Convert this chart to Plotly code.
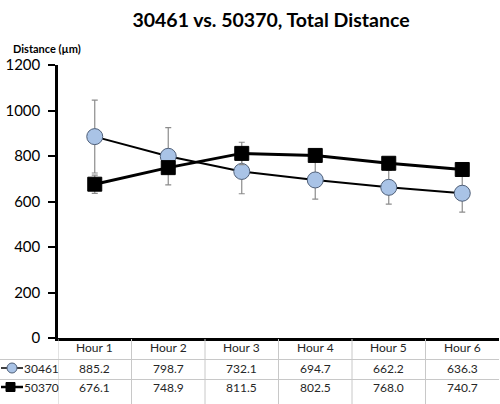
import plotly.graph_objects as go

categories = ["Hour 1", "Hour 2", "Hour 3", "Hour 4", "Hour 5", "Hour 6"]
series_a_name = "30461"
series_a = [885.2, 798.7, 732.1, 694.7, 662.2, 636.3]
series_a_err = [160, 126, 98, 84, 74, 83]
series_b_name = "50370"
series_b = [676.1, 748.9, 811.5, 802.5, 768.0, 740.7]
series_b_err = [40, 20, 49, 25, 25, 25]
y_ticks = [0, 200, 400, 600, 800, 1000, 1200]

FONT = "Lato, Carlito, 'Open Sans', sans-serif"
W, H = 500, 404
L, R, T, B = 58, 1, 65, 66
PW, PH = W - L - R, H - T - B


def px(x):
    return (x - L) / PW


def py(y):
    return (H - B - y) / PH


fig = go.Figure()
fig.add_trace(go.Scatter(
    x=categories, y=series_a, name=series_a_name, mode="lines+markers",
    line=dict(color="black", width=2),
    marker=dict(symbol="circle", size=16, color="#a9c3e6",
                line=dict(color="#4f5f78", width=1)),
    error_y=dict(type="data", array=series_a_err, color="#8c8c8c",
                 thickness=1.2, width=3),
    cliponaxis=False,
))
fig.add_trace(go.Scatter(
    x=categories, y=series_b, name=series_b_name, mode="lines+markers",
    line=dict(color="black", width=3),
    marker=dict(symbol="square", size=14, color="black",
                line=dict(color="black", width=1)),
    error_y=dict(type="data", array=series_b_err, color="#8c8c8c",
                 thickness=1.2, width=3),
    cliponaxis=False,
))

shapes = []
annotations = []
grid = "#c8c8c8"
# table horizontal lines
for yy in [359.5, 379.5]:
    shapes.append(dict(type="line", xref="paper", yref="paper",
                       x0=px(0), x1=px(499), y0=py(yy), y1=py(yy),
                       line=dict(color=grid, width=1)))
# table vertical lines
for i in range(len(categories)):
    shapes.append(dict(type="line", xref="x", yref="paper",
                       x0=i - 0.5, x1=i - 0.5, y0=py(339), y1=py(404),
                       line=dict(color=grid, width=1)))

row_y = [347.5, 368, 387]
txt_font = dict(family=FONT, size=12, color="#262626")
for i, c in enumerate(categories):
    annotations.append(dict(x=c, xref="x", y=py(row_y[0]), yref="paper",
                            text=c, showarrow=False, xanchor="center",
                            yanchor="middle", font=txt_font))
    annotations.append(dict(x=c, xref="x", y=py(row_y[1]), yref="paper",
                            text=f"{series_a[i]:.1f}", showarrow=False,
                            xanchor="center", yanchor="middle", font=txt_font))
    annotations.append(dict(x=c, xref="x", y=py(row_y[2]), yref="paper",
                            text=f"{series_b[i]:.1f}", showarrow=False,
                            xanchor="center", yanchor="middle", font=txt_font))

# legend keys in table
shapes.append(dict(type="line", xref="paper", yref="paper",
                   x0=px(1), x1=px(23), y0=py(row_y[1]), y1=py(row_y[1]),
                   line=dict(color="black", width=1.5)))
shapes.append(dict(type="circle", xref="paper", yref="paper",
                   x0=px(7), x1=px(17), y0=py(row_y[1] - 5), y1=py(row_y[1] + 5),
                   fillcolor="#a9c3e6", line=dict(color="#4f5f78", width=1)))
shapes.append(dict(type="line", xref="paper", yref="paper",
                   x0=px(1), x1=px(23), y0=py(row_y[2]), y1=py(row_y[2]),
                   line=dict(color="black", width=2.5)))
shapes.append(dict(type="rect", xref="paper", yref="paper",
                   x0=px(6), x1=px(15), y0=py(row_y[2] - 4.5), y1=py(row_y[2] + 4.5),
                   fillcolor="black", line=dict(color="black", width=1)))
annotations.append(dict(x=px(23), xref="paper", y=py(row_y[1]), yref="paper",
                        text=series_a_name, showarrow=False, xanchor="left",
                        yanchor="middle", font=txt_font, borderpad=0))
annotations.append(dict(x=px(23), xref="paper", y=py(row_y[2]), yref="paper",
                        text=series_b_name, showarrow=False, xanchor="left",
                        yanchor="middle", font=txt_font, borderpad=0))

# y axis title
annotations.append(dict(x=px(47), xref="paper", y=py(48), yref="paper",
                        text="<b>Distance (µm)</b>", showarrow=False,
                        xanchor="center", yanchor="middle",
                        font=dict(family=FONT, size=11, color="black")))

fig.update_layout(
    template="none",
    width=W, height=H,
    margin=dict(l=L, r=R, t=T, b=B, autoexpand=False),
    paper_bgcolor="white", plot_bgcolor="white",
    showlegend=False,
    title=dict(text="<b>30461 vs. 50370, Total Distance</b>",
               x=271 / W, xanchor="center", y=1 - 20 / H, yanchor="middle",
               font=dict(family=FONT, size=19.5, color="black")),
    xaxis=dict(type="category", range=[-0.5, 5.5], showticklabels=False,
               ticks="", showgrid=False, zeroline=False, automargin=False,
               showline=True, linecolor="black", linewidth=2.5),
    yaxis=dict(range=[0, 1200], tickvals=y_ticks, ticks="outside",
               ticklen=7, tickwidth=1.5, tickcolor="black",
               ticklabelstandoff=5, automargin=False,
               showgrid=False, zeroline=False, showline=True,
               linecolor="black", linewidth=2.5,
               tickfont=dict(family=FONT, size=15, color="black")),
    shapes=shapes, annotations=annotations,
)

fig.write_html("out.html",
               config={"displayModeBar": False},
               post_script="document.body.style.margin='0';"
                           "document.body.style.padding='0';")
